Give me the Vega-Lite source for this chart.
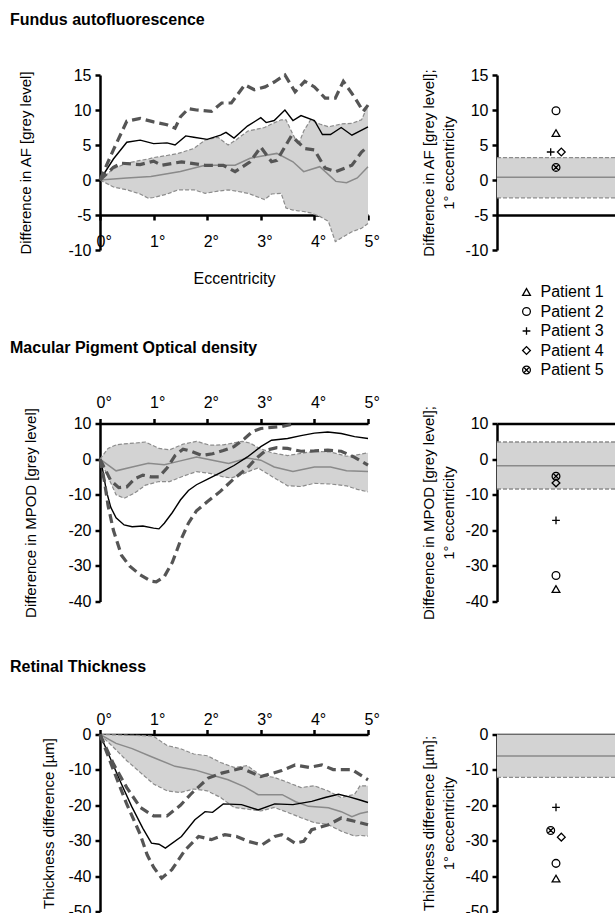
{
  "$schema": "https://vega.github.io/schema/vega-lite/v6.json",
  "padding": {"left": 10, "top": 12, "right": 0, "bottom": 0},
  "config": {
    "font": "Liberation Sans",
    "view": {"stroke": null},
    "axis": {"domainColor": "black", "domainWidth": 2.5, "tickColor": "black", "tickWidth": 2.5, "tickSize": 5, "labelColor": "black", "titleColor": "black", "labelFontSize": 16, "titleFontSize": 15, "titleFontWeight": "normal", "grid": false, "labelFont": "Liberation Sans", "titleFont": "Liberation Sans", "zindex": 1, "labelFlush": false, "labelOverlap": false},
    "title": {"anchor": "start", "frame": "group", "dx": -90, "offset": 39, "fontSize": 16, "fontWeight": "bold", "font": "Liberation Sans", "color": "black"}
  },
  "datasets": {
    "faf_band": [
      {"x": 0, "lo": 0, "hi": 0}, {"x": 0.25, "lo": -1.0, "hi": 1.6}, {"x": 0.5, "lo": -1.4, "hi": 2.4}, {"x": 0.75, "lo": -2.0, "hi": 2.8}, {"x": 0.9, "lo": -2.6, "hi": 3.0}, {"x": 1.0, "lo": -2.5, "hi": 3.2}, {"x": 1.25, "lo": -2.0, "hi": 3.5}, {"x": 1.46, "lo": -1.4, "hi": 3.8}, {"x": 1.75, "lo": -1.4, "hi": 4.5}, {"x": 1.96, "lo": -1.9, "hi": 5.7}, {"x": 2.2, "lo": -1.6, "hi": 6.1}, {"x": 2.39, "lo": -1.4, "hi": 5.0}, {"x": 2.55, "lo": -1.6, "hi": 5.8}, {"x": 2.76, "lo": -1.9, "hi": 7.0}, {"x": 3.07, "lo": -2.8, "hi": 7.5}, {"x": 3.2, "lo": -2.0, "hi": 8.0}, {"x": 3.38, "lo": -1.9, "hi": 8.6}, {"x": 3.47, "lo": -4.0, "hi": 8.6}, {"x": 3.6, "lo": -4.3, "hi": 6.5}, {"x": 3.7, "lo": -4.4, "hi": 5.0}, {"x": 3.8, "lo": -4.5, "hi": 7.0}, {"x": 3.93, "lo": -4.7, "hi": 8.6}, {"x": 4.1, "lo": -5.2, "hi": 8.0}, {"x": 4.26, "lo": -5.9, "hi": 7.6}, {"x": 4.39, "lo": -8.8, "hi": 7.8}, {"x": 4.5, "lo": -8.3, "hi": 8.0}, {"x": 4.7, "lo": -7.4, "hi": 8.1}, {"x": 4.88, "lo": -6.9, "hi": 8.6}, {"x": 5.0, "lo": -6.2, "hi": 10.7}
    ],
    "faf_lines": [
      {"s": "mean", "x": 0, "v": 0}, {"s": "mean", "x": 0.5, "v": 0.3}, {"s": "mean", "x": 0.95, "v": 0.5}, {"s": "mean", "x": 1.5, "v": 1.2}, {"s": "mean", "x": 1.96, "v": 2.1}, {"s": "mean", "x": 2.52, "v": 2.1}, {"s": "mean", "x": 2.8, "v": 3.1}, {"s": "mean", "x": 3.3, "v": 3.8}, {"s": "mean", "x": 3.6, "v": 2.6}, {"s": "mean", "x": 3.8, "v": 1.2}, {"s": "mean", "x": 4.1, "v": 1.9}, {"s": "mean", "x": 4.4, "v": -0.2}, {"s": "mean", "x": 4.6, "v": -0.4}, {"s": "mean", "x": 4.8, "v": 0.3}, {"s": "mean", "x": 5.0, "v": 1.9},
      {"s": "solid", "x": 0, "v": 0}, {"s": "solid", "x": 0.25, "v": 3.0}, {"s": "solid", "x": 0.5, "v": 5.4}, {"s": "solid", "x": 0.75, "v": 5.7}, {"s": "solid", "x": 1.0, "v": 5.2}, {"s": "solid", "x": 1.25, "v": 5.3}, {"s": "solid", "x": 1.4, "v": 5.0}, {"s": "solid", "x": 1.6, "v": 6.3}, {"s": "solid", "x": 1.75, "v": 6.1}, {"s": "solid", "x": 2.0, "v": 5.8}, {"s": "solid", "x": 2.25, "v": 6.4}, {"s": "solid", "x": 2.35, "v": 6.8}, {"s": "solid", "x": 2.5, "v": 6.0}, {"s": "solid", "x": 2.75, "v": 7.7}, {"s": "solid", "x": 3.0, "v": 8.9}, {"s": "solid", "x": 3.1, "v": 8.2}, {"s": "solid", "x": 3.25, "v": 8.5}, {"s": "solid", "x": 3.45, "v": 10.0}, {"s": "solid", "x": 3.6, "v": 8.5}, {"s": "solid", "x": 3.75, "v": 9.2}, {"s": "solid", "x": 4.0, "v": 8.5}, {"s": "solid", "x": 4.15, "v": 6.5}, {"s": "solid", "x": 4.3, "v": 6.5}, {"s": "solid", "x": 4.5, "v": 7.5}, {"s": "solid", "x": 4.7, "v": 6.4}, {"s": "solid", "x": 5.0, "v": 7.6},
      {"s": "dashA", "x": 0, "v": 0}, {"s": "dashA", "x": 0.25, "v": 4.3}, {"s": "dashA", "x": 0.5, "v": 8.4}, {"s": "dashA", "x": 0.75, "v": 8.8}, {"s": "dashA", "x": 1.0, "v": 8.3}, {"s": "dashA", "x": 1.25, "v": 7.9}, {"s": "dashA", "x": 1.4, "v": 7.4}, {"s": "dashA", "x": 1.5, "v": 9.0}, {"s": "dashA", "x": 1.65, "v": 10.2}, {"s": "dashA", "x": 1.8, "v": 10.0}, {"s": "dashA", "x": 2.08, "v": 9.8}, {"s": "dashA", "x": 2.27, "v": 11.0}, {"s": "dashA", "x": 2.45, "v": 11.0}, {"s": "dashA", "x": 2.7, "v": 13.6}, {"s": "dashA", "x": 2.88, "v": 12.9}, {"s": "dashA", "x": 3.08, "v": 13.3}, {"s": "dashA", "x": 3.25, "v": 14.0}, {"s": "dashA", "x": 3.45, "v": 15.0}, {"s": "dashA", "x": 3.64, "v": 12.6}, {"s": "dashA", "x": 3.82, "v": 14.1}, {"s": "dashA", "x": 4.0, "v": 13.3}, {"s": "dashA", "x": 4.2, "v": 11.7}, {"s": "dashA", "x": 4.39, "v": 11.7}, {"s": "dashA", "x": 4.54, "v": 14.1}, {"s": "dashA", "x": 4.76, "v": 11.7}, {"s": "dashA", "x": 4.91, "v": 9.8}, {"s": "dashA", "x": 5.0, "v": 10.7},
      {"s": "dashB", "x": 0, "v": 0}, {"s": "dashB", "x": 0.25, "v": 1.8}, {"s": "dashB", "x": 0.4, "v": 2.4}, {"s": "dashB", "x": 0.75, "v": 2.2}, {"s": "dashB", "x": 1.0, "v": 2.7}, {"s": "dashB", "x": 1.15, "v": 2.1}, {"s": "dashB", "x": 1.52, "v": 2.6}, {"s": "dashB", "x": 1.96, "v": 2.1}, {"s": "dashB", "x": 2.3, "v": 2.1}, {"s": "dashB", "x": 2.52, "v": 1.2}, {"s": "dashB", "x": 2.8, "v": 2.6}, {"s": "dashB", "x": 3.0, "v": 4.7}, {"s": "dashB", "x": 3.2, "v": 2.6}, {"s": "dashB", "x": 3.3, "v": 2.8}, {"s": "dashB", "x": 3.57, "v": 6.3}, {"s": "dashB", "x": 3.82, "v": 4.5}, {"s": "dashB", "x": 4.0, "v": 4.3}, {"s": "dashB", "x": 4.2, "v": 1.7}, {"s": "dashB", "x": 4.4, "v": 1.2}, {"s": "dashB", "x": 4.7, "v": 2.1}, {"s": "dashB", "x": 4.88, "v": 4.0}, {"s": "dashB", "x": 5.0, "v": 4.8}
    ],
    "faf_ref": [{"lo": -2.55, "mean": 0.4, "hi": 3.2}],
    "faf_pts": [
      {"patient": "Patient 1", "v": 6.7, "jx": 1}, {"patient": "Patient 2", "v": 9.9, "jx": 1}, {"patient": "Patient 3", "v": 4.0, "jx": 0.91}, {"patient": "Patient 4", "v": 4.0, "jx": 1.09}, {"patient": "Patient 5", "v": 1.8, "jx": 1}
    ],
    "mpod_band": [
      {"x": 0, "lo": 0, "hi": 0}, {"x": 0.15, "lo": -5, "hi": 3.0}, {"x": 0.3, "lo": -10, "hi": 4.0}, {"x": 0.45, "lo": -11, "hi": 4.3}, {"x": 0.65, "lo": -9.5, "hi": 4.5}, {"x": 0.85, "lo": -7.3, "hi": 4.8}, {"x": 1.1, "lo": -6.3, "hi": 3.0}, {"x": 1.3, "lo": -6.3, "hi": 2.6}, {"x": 1.55, "lo": -4.8, "hi": 4.2}, {"x": 1.8, "lo": -3.5, "hi": 5.0}, {"x": 2.05, "lo": -4.0, "hi": 3.9}, {"x": 2.3, "lo": -5.0, "hi": 4.0}, {"x": 2.45, "lo": -5.3, "hi": 4.4}, {"x": 2.65, "lo": -4.3, "hi": 5.0}, {"x": 2.8, "lo": -3.3, "hi": 4.5}, {"x": 2.95, "lo": -2.5, "hi": 3.2}, {"x": 3.2, "lo": -4.8, "hi": 1.8}, {"x": 3.5, "lo": -7.5, "hi": 1.0}, {"x": 3.75, "lo": -7.7, "hi": 1.6}, {"x": 4.0, "lo": -6.8, "hi": 2.2}, {"x": 4.3, "lo": -7.0, "hi": 2.0}, {"x": 4.6, "lo": -7.5, "hi": 0.8}, {"x": 4.8, "lo": -8.5, "hi": 1.2}, {"x": 5.0, "lo": -9.2, "hi": 1.8}
    ],
    "mpod_lines": [
      {"s": "mean", "x": 0, "v": 0}, {"s": "mean", "x": 0.3, "v": -3.3}, {"s": "mean", "x": 0.6, "v": -2.2}, {"s": "mean", "x": 0.9, "v": -1.2}, {"s": "mean", "x": 1.2, "v": -1.6}, {"s": "mean", "x": 1.5, "v": -0.5}, {"s": "mean", "x": 1.8, "v": 0.6}, {"s": "mean", "x": 2.1, "v": -0.3}, {"s": "mean", "x": 2.4, "v": -1.2}, {"s": "mean", "x": 2.75, "v": 0.3}, {"s": "mean", "x": 3.0, "v": -0.3}, {"s": "mean", "x": 3.25, "v": -2.2}, {"s": "mean", "x": 3.6, "v": -3.5}, {"s": "mean", "x": 4.0, "v": -2.2}, {"s": "mean", "x": 4.3, "v": -2.2}, {"s": "mean", "x": 4.6, "v": -3.3}, {"s": "mean", "x": 5.0, "v": -3.5},
      {"s": "solid", "x": 0, "v": 0}, {"s": "solid", "x": 0.05, "v": -3}, {"s": "solid", "x": 0.12, "v": -9}, {"s": "solid", "x": 0.2, "v": -13.5}, {"s": "solid", "x": 0.3, "v": -16.5}, {"s": "solid", "x": 0.45, "v": -18.5}, {"s": "solid", "x": 0.6, "v": -19}, {"s": "solid", "x": 0.8, "v": -18.8}, {"s": "solid", "x": 1.0, "v": -19.4}, {"s": "solid", "x": 1.1, "v": -19.6}, {"s": "solid", "x": 1.2, "v": -18}, {"s": "solid", "x": 1.35, "v": -15}, {"s": "solid", "x": 1.5, "v": -11.5}, {"s": "solid", "x": 1.65, "v": -8.8}, {"s": "solid", "x": 1.8, "v": -7.2}, {"s": "solid", "x": 2.0, "v": -5.7}, {"s": "solid", "x": 2.25, "v": -3.8}, {"s": "solid", "x": 2.5, "v": -1.8}, {"s": "solid", "x": 2.75, "v": 0.6}, {"s": "solid", "x": 3.0, "v": 3.5}, {"s": "solid", "x": 3.2, "v": 5.3}, {"s": "solid", "x": 3.5, "v": 5.8}, {"s": "solid", "x": 3.75, "v": 6.6}, {"s": "solid", "x": 4.0, "v": 7.3}, {"s": "solid", "x": 4.25, "v": 7.6}, {"s": "solid", "x": 4.5, "v": 7.2}, {"s": "solid", "x": 4.75, "v": 6.3}, {"s": "solid", "x": 5.0, "v": 5.8},
      {"s": "dashA", "x": 0, "v": 0}, {"s": "dashA", "x": 0.1, "v": -3}, {"s": "dashA", "x": 0.2, "v": -6}, {"s": "dashA", "x": 0.35, "v": -8}, {"s": "dashA", "x": 0.5, "v": -7.8}, {"s": "dashA", "x": 0.65, "v": -5.5}, {"s": "dashA", "x": 0.8, "v": -4.5}, {"s": "dashA", "x": 0.95, "v": -5}, {"s": "dashA", "x": 1.1, "v": -5}, {"s": "dashA", "x": 1.25, "v": -2.5}, {"s": "dashA", "x": 1.4, "v": 1}, {"s": "dashA", "x": 1.55, "v": 2.8}, {"s": "dashA", "x": 1.7, "v": 2.2}, {"s": "dashA", "x": 1.9, "v": 1.0}, {"s": "dashA", "x": 2.1, "v": 1.5}, {"s": "dashA", "x": 2.3, "v": 2.4}, {"s": "dashA", "x": 2.5, "v": 3.5}, {"s": "dashA", "x": 2.7, "v": 5.8}, {"s": "dashA", "x": 2.85, "v": 7.8}, {"s": "dashA", "x": 3.0, "v": 8.6}, {"s": "dashA", "x": 3.2, "v": 8.9}, {"s": "dashA", "x": 3.4, "v": 9.2}, {"s": "dashA", "x": 3.65, "v": 10},
      {"s": "dashB", "x": 0, "v": 0}, {"s": "dashB", "x": 0.08, "v": -6}, {"s": "dashB", "x": 0.15, "v": -13}, {"s": "dashB", "x": 0.25, "v": -20}, {"s": "dashB", "x": 0.4, "v": -27}, {"s": "dashB", "x": 0.55, "v": -30}, {"s": "dashB", "x": 0.75, "v": -32.5}, {"s": "dashB", "x": 0.95, "v": -34.3}, {"s": "dashB", "x": 1.05, "v": -34.5}, {"s": "dashB", "x": 1.2, "v": -33}, {"s": "dashB", "x": 1.35, "v": -29}, {"s": "dashB", "x": 1.5, "v": -23}, {"s": "dashB", "x": 1.65, "v": -18}, {"s": "dashB", "x": 1.8, "v": -14.5}, {"s": "dashB", "x": 2.0, "v": -12}, {"s": "dashB", "x": 2.25, "v": -9}, {"s": "dashB", "x": 2.5, "v": -5.5}, {"s": "dashB", "x": 2.75, "v": -2.5}, {"s": "dashB", "x": 2.9, "v": 0}, {"s": "dashB", "x": 3.1, "v": 2.5}, {"s": "dashB", "x": 3.3, "v": 3.2}, {"s": "dashB", "x": 3.5, "v": 3.0}, {"s": "dashB", "x": 3.75, "v": 2.2}, {"s": "dashB", "x": 4.0, "v": 2.3}, {"s": "dashB", "x": 4.25, "v": 2.5}, {"s": "dashB", "x": 4.5, "v": 2.2}, {"s": "dashB", "x": 4.75, "v": 0.5}, {"s": "dashB", "x": 5.0, "v": -1.7}
    ],
    "mpod_ref": [{"lo": -8.4, "mean": -1.9, "hi": 4.8}],
    "mpod_pts": [
      {"patient": "Patient 1", "v": -36.5, "jx": 1}, {"patient": "Patient 2", "v": -32.7, "jx": 1}, {"patient": "Patient 3", "v": -17.2, "jx": 1}, {"patient": "Patient 4", "v": -6.7, "jx": 1}, {"patient": "Patient 5", "v": -4.8, "jx": 1}
    ],
    "rt_band": [
      {"x": 0, "lo": 0, "hi": 0}, {"x": 0.25, "lo": -3.6, "hi": -0.1}, {"x": 0.5, "lo": -7.4, "hi": -0.2}, {"x": 0.75, "lo": -10.7, "hi": -0.3}, {"x": 1.0, "lo": -14.0, "hi": -0.5}, {"x": 1.25, "lo": -15.9, "hi": -3.1}, {"x": 1.5, "lo": -16.4, "hi": -4.0}, {"x": 1.75, "lo": -15.4, "hi": -5.5}, {"x": 2.0, "lo": -15.9, "hi": -6.0}, {"x": 2.25, "lo": -17.8, "hi": -7.9}, {"x": 2.5, "lo": -20.6, "hi": -9.3}, {"x": 2.75, "lo": -21.1, "hi": -8.8}, {"x": 3.0, "lo": -21.6, "hi": -11.6}, {"x": 3.25, "lo": -20.6, "hi": -12.1}, {"x": 3.5, "lo": -22.0, "hi": -13.5}, {"x": 3.75, "lo": -23.5, "hi": -15.0}, {"x": 4.0, "lo": -24.9, "hi": -14.5}, {"x": 4.25, "lo": -25.4, "hi": -15.9}, {"x": 4.5, "lo": -27.3, "hi": -17.8}, {"x": 4.75, "lo": -28.7, "hi": -16.9}, {"x": 4.85, "lo": -28.5, "hi": -14.5}, {"x": 5.0, "lo": -28.7, "hi": -14.5}
    ],
    "rt_lines": [
      {"s": "mean", "x": 0, "v": 0}, {"s": "mean", "x": 0.3, "v": -2.5}, {"s": "mean", "x": 0.6, "v": -4.0}, {"s": "mean", "x": 0.95, "v": -6.2}, {"s": "mean", "x": 1.4, "v": -9}, {"s": "mean", "x": 1.77, "v": -10}, {"s": "mean", "x": 2.1, "v": -11.5}, {"s": "mean", "x": 2.39, "v": -12.8}, {"s": "mean", "x": 2.7, "v": -14.8}, {"s": "mean", "x": 2.95, "v": -17}, {"s": "mean", "x": 3.2, "v": -17}, {"s": "mean", "x": 3.4, "v": -17}, {"s": "mean", "x": 3.65, "v": -19}, {"s": "mean", "x": 3.89, "v": -20.3}, {"s": "mean", "x": 4.26, "v": -20.7}, {"s": "mean", "x": 4.5, "v": -21.8}, {"s": "mean", "x": 4.7, "v": -23.2}, {"s": "mean", "x": 4.85, "v": -22.3}, {"s": "mean", "x": 5.0, "v": -21.8},
      {"s": "solid", "x": 0, "v": 0}, {"s": "solid", "x": 0.2, "v": -7}, {"s": "solid", "x": 0.4, "v": -14}, {"s": "solid", "x": 0.59, "v": -20.3}, {"s": "solid", "x": 0.8, "v": -26.5}, {"s": "solid", "x": 0.96, "v": -30.7}, {"s": "solid", "x": 1.1, "v": -31}, {"s": "solid", "x": 1.22, "v": -32.1}, {"s": "solid", "x": 1.52, "v": -28.8}, {"s": "solid", "x": 1.77, "v": -24.1}, {"s": "solid", "x": 1.96, "v": -21.8}, {"s": "solid", "x": 2.1, "v": -22}, {"s": "solid", "x": 2.3, "v": -19.6}, {"s": "solid", "x": 2.64, "v": -19.8}, {"s": "solid", "x": 2.95, "v": -21.3}, {"s": "solid", "x": 3.26, "v": -19.6}, {"s": "solid", "x": 3.6, "v": -19.8}, {"s": "solid", "x": 3.95, "v": -18.9}, {"s": "solid", "x": 4.2, "v": -17.8}, {"s": "solid", "x": 4.45, "v": -16.9}, {"s": "solid", "x": 4.65, "v": -17.6}, {"s": "solid", "x": 4.85, "v": -18.5}, {"s": "solid", "x": 5.0, "v": -19.2},
      {"s": "dashA", "x": 0, "v": 0}, {"s": "dashA", "x": 0.25, "v": -8.3}, {"s": "dashA", "x": 0.5, "v": -15}, {"s": "dashA", "x": 0.75, "v": -20.6}, {"s": "dashA", "x": 1.0, "v": -23}, {"s": "dashA", "x": 1.25, "v": -23}, {"s": "dashA", "x": 1.5, "v": -20}, {"s": "dashA", "x": 1.71, "v": -16.6}, {"s": "dashA", "x": 2.02, "v": -12.3}, {"s": "dashA", "x": 2.27, "v": -10.9}, {"s": "dashA", "x": 2.64, "v": -9.5}, {"s": "dashA", "x": 3.0, "v": -11.9}, {"s": "dashA", "x": 3.39, "v": -10.2}, {"s": "dashA", "x": 3.64, "v": -8.6}, {"s": "dashA", "x": 3.9, "v": -9.3}, {"s": "dashA", "x": 4.14, "v": -8.6}, {"s": "dashA", "x": 4.35, "v": -9.9}, {"s": "dashA", "x": 4.7, "v": -9.9}, {"s": "dashA", "x": 5.0, "v": -12.8},
      {"s": "dashB", "x": 0, "v": 0}, {"s": "dashB", "x": 0.25, "v": -10}, {"s": "dashB", "x": 0.5, "v": -19.7}, {"s": "dashB", "x": 0.75, "v": -28.2}, {"s": "dashB", "x": 0.88, "v": -34}, {"s": "dashB", "x": 1.0, "v": -37.5}, {"s": "dashB", "x": 1.15, "v": -40.6}, {"s": "dashB", "x": 1.34, "v": -38.2}, {"s": "dashB", "x": 1.59, "v": -32.6}, {"s": "dashB", "x": 1.84, "v": -28.8}, {"s": "dashB", "x": 2.08, "v": -29.7}, {"s": "dashB", "x": 2.33, "v": -28.3}, {"s": "dashB", "x": 2.55, "v": -28.8}, {"s": "dashB", "x": 2.77, "v": -30.2}, {"s": "dashB", "x": 3.02, "v": -31.2}, {"s": "dashB", "x": 3.26, "v": -28.8}, {"s": "dashB", "x": 3.39, "v": -28.3}, {"s": "dashB", "x": 3.64, "v": -30.7}, {"s": "dashB", "x": 3.8, "v": -30.2}, {"s": "dashB", "x": 3.95, "v": -26.9}, {"s": "dashB", "x": 4.26, "v": -25.5}, {"s": "dashB", "x": 4.5, "v": -23.6}, {"s": "dashB", "x": 4.75, "v": -24.5}, {"s": "dashB", "x": 5.0, "v": -25.5}
    ],
    "rt_ref": [{"lo": -12.1, "mean": -6.1, "hi": 0}],
    "rt_pts": [
      {"patient": "Patient 1", "v": -40.7, "jx": 1}, {"patient": "Patient 2", "v": -36.4, "jx": 1}, {"patient": "Patient 3", "v": -20.6, "jx": 1}, {"patient": "Patient 4", "v": -29.0, "jx": 1.09}, {"patient": "Patient 5", "v": -27.1, "jx": 0.91}
    ]
  },
  "spacing": 53.5,
  "vconcat": [
    {
      "hconcat": [
        {
          "width": 268, "height": 175,
          "title": {"text": "Fundus autofluorescence"},
          "layer": [
            {"data": {"name": "faf_band"}, "mark": {"type": "area", "color": "#d3d3d3"},
             "encoding": {
               "x": {"field": "x", "type": "quantitative", "scale": {"domain": [0, 5], "nice": false}, "axis": {"orient": "bottom", "offset": -35, "values": [0, 1, 2, 3, 4, 5], "tickCount": 12, "labelExpr": "datum.value + '°'", "title": "Eccentricity", "titleFontSize": 16, "titlePadding": 21, "labelPadding": 13, "labelAlign": "left", "labelOffset": -4, "labelOverlap": false}},
               "y": {"field": "lo", "type": "quantitative", "scale": {"domain": [-10, 15], "nice": false}, "axis": {"values": [-10, -5, 0, 5, 10, 15], "tickCount": 12, "labelExpr": "'' + datum.value", "title": "Difference in AF [grey level]", "titlePadding": 34, "labelPadding": 4, "labelOverlap": false}},
               "y2": {"field": "hi"}}},
            {"data": {"name": "faf_band"}, "mark": {"type": "line", "color": "#8c8c8c", "strokeWidth": 1.2, "strokeDash": [4, 2]}, "encoding": {"x": {"field": "x", "type": "quantitative"}, "y": {"field": "lo", "type": "quantitative"}}},
            {"data": {"name": "faf_band"}, "mark": {"type": "line", "color": "#8c8c8c", "strokeWidth": 1.2, "strokeDash": [4, 2]}, "encoding": {"x": {"field": "x", "type": "quantitative"}, "y": {"field": "hi", "type": "quantitative"}}},
            {"data": {"name": "faf_lines"}, "transform": [{"filter": "datum.s === 'mean'"}], "mark": {"type": "line", "color": "#8a8a8a", "strokeWidth": 1.5}, "encoding": {"x": {"field": "x", "type": "quantitative"}, "y": {"field": "v", "type": "quantitative"}}},
            {"data": {"name": "faf_lines"}, "transform": [{"filter": "datum.s === 'solid'"}], "mark": {"type": "line", "color": "black", "strokeWidth": 1.4}, "encoding": {"x": {"field": "x", "type": "quantitative"}, "y": {"field": "v", "type": "quantitative"}}},
            {"data": {"name": "faf_lines"}, "transform": [{"filter": "datum.s === 'dashA' || datum.s === 'dashB'"}], "mark": {"type": "line", "color": "#555555", "strokeWidth": 3.2, "strokeDash": [9, 5]}, "encoding": {"x": {"field": "x", "type": "quantitative"}, "y": {"field": "v", "type": "quantitative"}, "detail": {"field": "s"}}}
          ]
        },
        {
          "width": 118, "height": 175,
          "layer": [
            {"data": {"name": "faf_ref"}, "mark": {"type": "rect", "color": "#d3d3d3"},
             "encoding": {"y": {"field": "lo", "type": "quantitative", "scale": {"domain": [-10, 15], "nice": false}, "axis": {"values": [-10, -5, 0, 5, 10, 15], "tickCount": 12, "labelExpr": "'' + datum.value", "title": ["Difference in AF [grey level];", "1° eccentricity"], "titlePadding": 8, "labelPadding": 4, "titleLineHeight": 20, "labelOverlap": false}}, "y2": {"field": "hi"}}},
            {"data": {"name": "faf_ref"}, "mark": {"type": "rule", "color": "#8c8c8c", "strokeWidth": 1.3, "strokeDash": [4, 2]}, "encoding": {"y": {"field": "lo", "type": "quantitative"}}},
            {"data": {"name": "faf_ref"}, "mark": {"type": "rule", "color": "#8c8c8c", "strokeWidth": 1.3, "strokeDash": [4, 2]}, "encoding": {"y": {"field": "hi", "type": "quantitative"}}},
            {"data": {"name": "faf_ref"}, "mark": {"type": "rule", "color": "#8a8a8a", "strokeWidth": 1.5}, "encoding": {"y": {"field": "mean", "type": "quantitative"}}},
            {"data": {"name": "faf_pts"}, "mark": {"type": "point", "filled": false, "color": "black", "strokeWidth": 1.3, "size": 60, "opacity": 1},
             "encoding": {
               "x": {"field": "jx", "type": "quantitative", "scale": {"domain": [0, 2], "nice": false, "zero": false}, "axis": {"orient": "bottom", "offset": -35, "labels": false, "ticks": false, "title": null, "domain": true}},
               "y": {"field": "v", "type": "quantitative"},
               "shape": {"field": "patient", "type": "nominal", "scale": {"domain": ["Patient 1", "Patient 2", "Patient 3", "Patient 4", "Patient 5"], "range": ["triangle-up", "circle", "M-1,0L1,0M0,-1L0,1", "diamond", "M1,0A1,1,0,1,1,-1,0A1,1,0,1,1,1,0ZM-0.7,-0.7L0.7,0.7M-0.7,0.7L0.7,-0.7"]},
                 "legend": {"orient": "none", "legendX": 418.5, "legendY": 209, "title": null, "padding": 0, "labelFontSize": 16, "labelFont": "Liberation Sans", "labelColor": "black", "symbolSize": 60, "rowPadding": 3.5, "labelOffset": 6, "symbolStrokeWidth": 1.3, "symbolStrokeColor": "black", "symbolFillColor": "transparent"}}}}
          ]
        }
      ],
      "bounds": "flush",
      "spacing": 129
    },
    {
      "concat": [
        {
          "width": 268, "height": 178,
          "title": {"text": "Macular Pigment Optical density"},
          "layer": [
            {"data": {"name": "mpod_band"}, "mark": {"type": "area", "color": "#d3d3d3"},
             "encoding": {
               "x": {"field": "x", "type": "quantitative", "scale": {"domain": [0, 5], "nice": false}, "axis": {"orient": "top", "values": [0, 1, 2, 3, 4, 5], "tickCount": 12, "labelExpr": "datum.value + '°'", "title": null, "labelPadding": 8, "labelAlign": "left", "labelOffset": -4, "labelOverlap": false}},
               "y": {"field": "lo", "type": "quantitative", "scale": {"domain": [-40, 10], "nice": false}, "axis": {"values": [-40, -30, -20, -10, 0, 10], "tickCount": 12, "labelExpr": "'' + datum.value", "title": "Difference in MPOD [grey level]", "titlePadding": 29, "labelPadding": 4, "labelOverlap": false}},
               "y2": {"field": "hi"}}},
            {"data": {"name": "mpod_band"}, "mark": {"type": "line", "color": "#8c8c8c", "strokeWidth": 1.2, "strokeDash": [4, 2]}, "encoding": {"x": {"field": "x", "type": "quantitative"}, "y": {"field": "lo", "type": "quantitative"}}},
            {"data": {"name": "mpod_band"}, "mark": {"type": "line", "color": "#8c8c8c", "strokeWidth": 1.2, "strokeDash": [4, 2]}, "encoding": {"x": {"field": "x", "type": "quantitative"}, "y": {"field": "hi", "type": "quantitative"}}},
            {"data": {"name": "mpod_lines"}, "transform": [{"filter": "datum.s === 'mean'"}], "mark": {"type": "line", "color": "#8a8a8a", "strokeWidth": 1.5}, "encoding": {"x": {"field": "x", "type": "quantitative"}, "y": {"field": "v", "type": "quantitative"}}},
            {"data": {"name": "mpod_lines"}, "transform": [{"filter": "datum.s === 'solid'"}], "mark": {"type": "line", "color": "black", "strokeWidth": 1.4}, "encoding": {"x": {"field": "x", "type": "quantitative"}, "y": {"field": "v", "type": "quantitative"}}},
            {"data": {"name": "mpod_lines"}, "transform": [{"filter": "datum.s === 'dashA' || datum.s === 'dashB'"}], "mark": {"type": "line", "color": "#555555", "strokeWidth": 3.2, "strokeDash": [9, 5]}, "encoding": {"x": {"field": "x", "type": "quantitative"}, "y": {"field": "v", "type": "quantitative"}, "detail": {"field": "s"}}}
          ]
        },
        {
          "width": 118, "height": 178,
          "layer": [
            {"data": {"name": "mpod_ref"}, "mark": {"type": "rect", "color": "#d3d3d3"},
             "encoding": {"y": {"field": "lo", "type": "quantitative", "scale": {"domain": [-40, 10], "nice": false}, "axis": {"values": [-40, -30, -20, -10, 0, 10], "tickCount": 12, "labelExpr": "'' + datum.value", "title": ["Difference in MPOD [grey level];", "1° eccentricity"], "titlePadding": 8, "labelPadding": 4, "titleLineHeight": 20, "labelOverlap": false}}, "y2": {"field": "hi"}}},
            {"data": {"name": "mpod_ref"}, "mark": {"type": "rule", "color": "#8c8c8c", "strokeWidth": 1.3, "strokeDash": [4, 2]}, "encoding": {"y": {"field": "lo", "type": "quantitative"}}},
            {"data": {"name": "mpod_ref"}, "mark": {"type": "rule", "color": "#8c8c8c", "strokeWidth": 1.3, "strokeDash": [4, 2]}, "encoding": {"y": {"field": "hi", "type": "quantitative"}}},
            {"data": {"name": "mpod_ref"}, "mark": {"type": "rule", "color": "#8a8a8a", "strokeWidth": 1.5}, "encoding": {"y": {"field": "mean", "type": "quantitative"}}},
            {"data": {"name": "mpod_pts"}, "mark": {"type": "point", "filled": false, "color": "black", "strokeWidth": 1.3, "size": 60, "opacity": 1},
             "encoding": {
               "x": {"field": "jx", "type": "quantitative", "scale": {"domain": [0, 2], "nice": false, "zero": false}, "axis": {"orient": "top", "labels": false, "ticks": false, "title": null, "domain": true}},
               "y": {"field": "v", "type": "quantitative"},
               "shape": {"field": "patient", "type": "nominal", "scale": {"domain": ["Patient 1", "Patient 2", "Patient 3", "Patient 4", "Patient 5"], "range": ["triangle-up", "circle", "M-1,0L1,0M0,-1L0,1", "diamond", "M1,0A1,1,0,1,1,-1,0A1,1,0,1,1,1,0ZM-0.7,-0.7L0.7,0.7M-0.7,0.7L0.7,-0.7"]}, "legend": null}}}
          ]
        },
        {
          "width": 268, "height": 177,
          "title": {"text": "Retinal Thickness", "offset": 37},
          "layer": [
            {"data": {"name": "rt_band"}, "mark": {"type": "area", "color": "#d3d3d3"},
             "encoding": {
               "x": {"field": "x", "type": "quantitative", "scale": {"domain": [0, 5], "nice": false}, "axis": {"orient": "top", "values": [0, 1, 2, 3, 4, 5], "tickCount": 12, "labelExpr": "datum.value + '°'", "title": null, "labelPadding": 2, "labelAlign": "left", "labelOffset": -4, "labelOverlap": false}},
               "y": {"field": "lo", "type": "quantitative", "scale": {"domain": [-50, 0], "nice": false}, "axis": {"values": [-50, -40, -30, -20, -10, 0], "tickCount": 12, "labelExpr": "'' + datum.value", "title": "Thickness difference [µm]", "titlePadding": 11, "labelPadding": 4, "labelOverlap": false}},
               "y2": {"field": "hi"}}},
            {"data": {"name": "rt_band"}, "mark": {"type": "line", "color": "#8c8c8c", "strokeWidth": 1.2, "strokeDash": [4, 2]}, "encoding": {"x": {"field": "x", "type": "quantitative"}, "y": {"field": "lo", "type": "quantitative"}}},
            {"data": {"name": "rt_band"}, "mark": {"type": "line", "color": "#8c8c8c", "strokeWidth": 1.2, "strokeDash": [4, 2]}, "encoding": {"x": {"field": "x", "type": "quantitative"}, "y": {"field": "hi", "type": "quantitative"}}},
            {"data": {"name": "rt_lines"}, "transform": [{"filter": "datum.s === 'mean'"}], "mark": {"type": "line", "color": "#8a8a8a", "strokeWidth": 1.5}, "encoding": {"x": {"field": "x", "type": "quantitative"}, "y": {"field": "v", "type": "quantitative"}}},
            {"data": {"name": "rt_lines"}, "transform": [{"filter": "datum.s === 'solid'"}], "mark": {"type": "line", "color": "black", "strokeWidth": 1.4}, "encoding": {"x": {"field": "x", "type": "quantitative"}, "y": {"field": "v", "type": "quantitative"}}},
            {"data": {"name": "rt_lines"}, "transform": [{"filter": "datum.s === 'dashA' || datum.s === 'dashB'"}], "mark": {"type": "line", "color": "#555555", "strokeWidth": 3.2, "strokeDash": [9, 5]}, "encoding": {"x": {"field": "x", "type": "quantitative"}, "y": {"field": "v", "type": "quantitative"}, "detail": {"field": "s"}}}
          ]
        },
        {
          "width": 118, "height": 177,
          "layer": [
            {"data": {"name": "rt_ref"}, "mark": {"type": "rect", "color": "#d3d3d3"},
             "encoding": {"y": {"field": "lo", "type": "quantitative", "scale": {"domain": [-50, 0], "nice": false}, "axis": {"values": [-50, -40, -30, -20, -10, 0], "tickCount": 12, "labelExpr": "'' + datum.value", "title": ["Thickness difference [µm];", "1° eccentricity"], "titlePadding": 8, "labelPadding": 4, "titleLineHeight": 20, "labelOverlap": false}}, "y2": {"field": "hi"}}},
            {"data": {"name": "rt_ref"}, "mark": {"type": "rule", "color": "#8c8c8c", "strokeWidth": 1.3, "strokeDash": [4, 2]}, "encoding": {"y": {"field": "lo", "type": "quantitative"}}},
            {"data": {"name": "rt_ref"}, "mark": {"type": "rule", "color": "#8a8a8a", "strokeWidth": 1.5}, "encoding": {"y": {"field": "mean", "type": "quantitative"}}},
            {"data": {"name": "rt_pts"}, "mark": {"type": "point", "filled": false, "color": "black", "strokeWidth": 1.3, "size": 60, "opacity": 1},
             "encoding": {
               "x": {"field": "jx", "type": "quantitative", "scale": {"domain": [0, 2], "nice": false, "zero": false}, "axis": {"orient": "top", "labels": false, "ticks": false, "title": null, "domain": true}},
               "y": {"field": "v", "type": "quantitative"},
               "shape": {"field": "patient", "type": "nominal", "scale": {"domain": ["Patient 1", "Patient 2", "Patient 3", "Patient 4", "Patient 5"], "range": ["triangle-up", "circle", "M-1,0L1,0M0,-1L0,1", "diamond", "M1,0A1,1,0,1,1,-1,0A1,1,0,1,1,1,0ZM-0.7,-0.7L0.7,0.7M-0.7,0.7L0.7,-0.7"]}, "legend": null}}}
          ]
        }
      ],
      "columns": 2,
      "bounds": "flush",
      "spacing": {"row": 133, "column": 129}
    }
  ]
}
